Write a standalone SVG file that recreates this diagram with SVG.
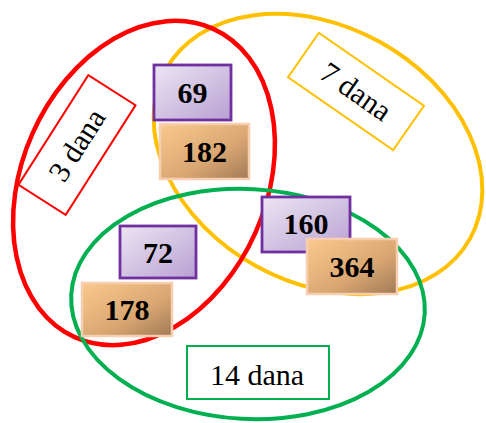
<svg xmlns="http://www.w3.org/2000/svg" width="486" height="423" viewBox="0 0 486 423">
<defs>
<linearGradient id="gp" x1="0" y1="0" x2="1" y2="1">
<stop offset="0" stop-color="#ece6f3"/><stop offset="1" stop-color="#b9a0d2"/>
</linearGradient>
<linearGradient id="go" x1="0" y1="0" x2="1" y2="1">
<stop offset="0" stop-color="#fac98e"/><stop offset="0.6" stop-color="#d9a672"/><stop offset="1" stop-color="#a07a55"/>
</linearGradient>
<style>
.el{fill:none}
.pb{fill:url(#gp);stroke:#7030a0;stroke-width:2.8}
.ob{fill:url(#go);stroke:#f8cdb0;stroke-width:2.5}
.num{font-family:"Liberation Serif",serif;font-weight:bold;font-size:30px;text-anchor:middle;fill:#000}
.lab{font-family:"Liberation Serif",serif;font-size:30px;text-anchor:middle;fill:#000}
</style>
</defs>
<g id="connectors">
<ellipse id="yellow" class="el" cx="318" cy="154" rx="174" ry="128" transform="rotate(29 318 154)" stroke="#ffc000" stroke-width="4"/>
<ellipse id="red" class="el" cx="144" cy="183" rx="169" ry="122" transform="rotate(-66 144 183)" stroke="#ff0000" stroke-width="4.5"/>
<ellipse id="green" class="el" cx="248" cy="304" rx="177" ry="115" transform="rotate(3 248 304)" stroke="#00b050" stroke-width="4"/>
</g>
<g id="label3">
<g transform="translate(77 145) rotate(-57.5)">
<rect x="-65" y="-28" width="130" height="56" fill="#fff" stroke="#ff0000" stroke-width="2"/>
<text class="lab" x="0" y="10">3 dana</text>
</g>
</g>
<g id="label7">
<g transform="translate(356 91.5) rotate(34.8)">
<rect x="-64" y="-27" width="128" height="54" fill="#fff" stroke="#ffc000" stroke-width="2"/>
<text class="lab" x="0" y="10">7 dana</text>
</g>
</g>
<g id="label14">
<rect x="187" y="346" width="142" height="53" fill="#fff" stroke="#00b050" stroke-width="2"/>
<text class="lab" x="257" y="385">14 dana</text>
</g>
<g id="n69"><rect class="pb" x="154" y="65" width="77" height="55"/><text class="num" x="192.5" y="103">69</text></g>
<g id="n182"><rect class="ob" x="160" y="124" width="89" height="55"/><text class="num" x="204.5" y="162">182</text></g>
<g id="n72"><rect class="pb" x="120" y="226" width="76" height="52"/><text class="num" x="158" y="263">72</text></g>
<g id="n178"><rect class="ob" x="82" y="283" width="90" height="53"/><text class="num" x="127" y="320">178</text></g>
<g id="n160"><rect class="pb" x="262" y="197" width="88" height="55"/><text class="num" x="306" y="234">160</text></g>
<g id="n364"><rect class="ob" x="307" y="239" width="90" height="55"/><text class="num" x="352" y="277">364</text></g>
</svg>
